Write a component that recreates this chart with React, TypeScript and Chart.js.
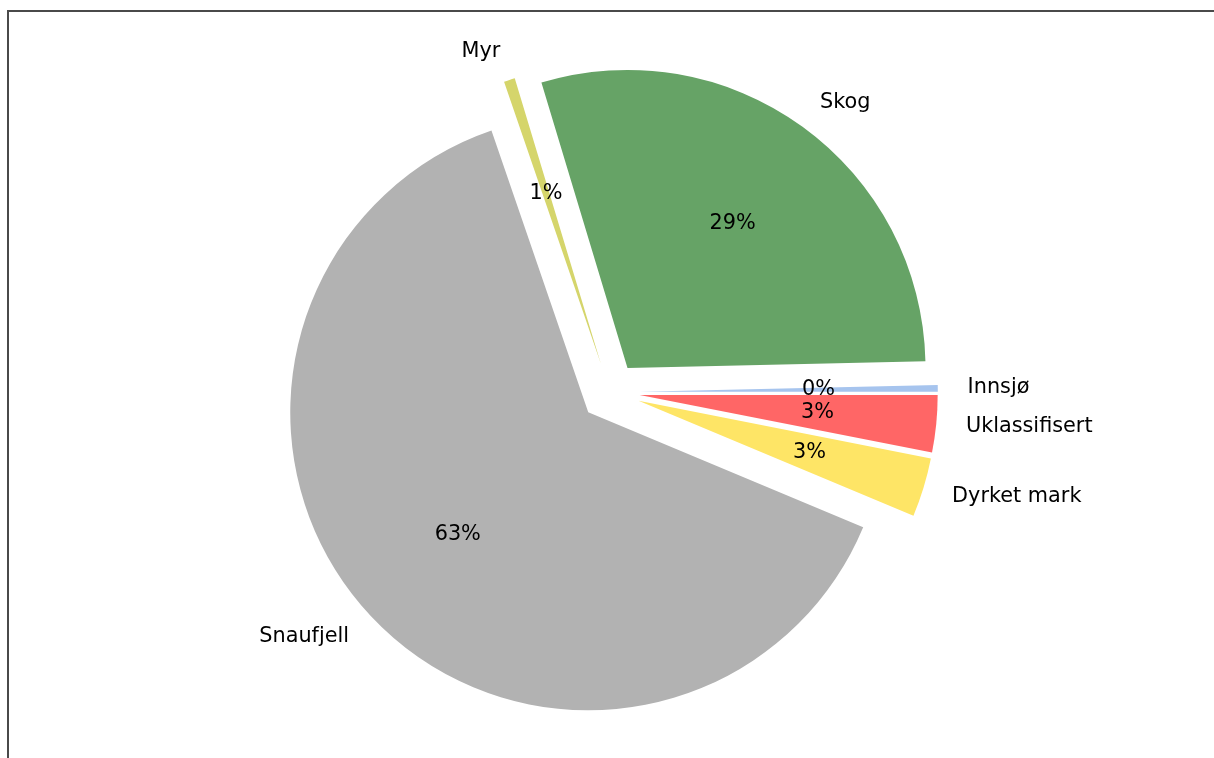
import React, { useEffect, useRef } from "react";
import { Chart, registerables } from "chart.js";

Chart.register(...registerables);

// Slices listed clockwise starting at 3 o'clock (the reference runs counter-clockwise from 0°).
const categories = ["Uklassifisert", "Dyrket mark", "Snaufjell", "Myr", "Skog", "Innsjø"];
const shares = [3.1, 3.2, 63.4, 0.6, 29.3, 0.35];
const sliceColors = ["#ff6666", "#fee566", "#b2b2b2", "#d5d56b", "#66a366", "#a6c4ee"];

const total = shares.reduce((a, b) => a + b, 0);
const pctLabels = shares.map((v) => Math.round((v / total) * 100) + "%");

const RADIUS = 298;
const EXPLODE = 0.1;
const LABEL_DIST = 1.1;
const PCT_DIST = 0.6;
const FONT = '20.8px "DejaVu Sans"';

const explodePlugin = {
  id: "explodeSlices",
  afterDatasetUpdate(chart: any, args: any) {
    const meta = chart.getDatasetMeta(args.index);
    meta.data.forEach((arc: any) => {
      const mid = (arc.startAngle + arc.endAngle) / 2;
      const d = arc.outerRadius * EXPLODE;
      arc.x += Math.cos(mid) * d;
      arc.y += Math.sin(mid) * d;
    });
  },
};

const framePlugin = {
  id: "frame",
  beforeDraw(chart: any) {
    const ctx = chart.ctx;
    ctx.save();
    ctx.fillStyle = "#ffffff";
    ctx.fillRect(0, 0, chart.width, chart.height);
    ctx.fillStyle = "#4a4a4a";
    ctx.fillRect(7, 10, chart.width - 7, 2);
    ctx.fillRect(7, 10, 2, chart.height - 10);
    ctx.restore();
  },
};

const textPlugin = {
  id: "pieText",
  afterDatasetsDraw(chart: any) {
    const ctx = chart.ctx;
    const meta = chart.getDatasetMeta(0);
    const cx = (chart.chartArea.left + chart.chartArea.right) / 2;
    ctx.save();
    ctx.font = FONT;
    ctx.fillStyle = "#000000";
    ctx.textBaseline = "middle";
    meta.data.forEach((arc: any, i: number) => {
      const mid = (arc.startAngle + arc.endAngle) / 2;
      const r = arc.outerRadius;
      const lx = arc.x + Math.cos(mid) * r * LABEL_DIST;
      const ly = arc.y + Math.sin(mid) * r * LABEL_DIST;
      ctx.textAlign = lx > cx ? "left" : "right";
      ctx.fillText(categories[i], lx, ly);
      const px = arc.x + Math.cos(mid) * r * PCT_DIST;
      const py = arc.y + Math.sin(mid) * r * PCT_DIST;
      ctx.textAlign = "center";
      ctx.fillText(pctLabels[i], px, py);
    });
    ctx.restore();
  },
};

export default function App() {
  const ref = useRef<HTMLCanvasElement | null>(null);
  useEffect(() => {
    if (!ref.current) return;
    const chart = new Chart(ref.current, {
      type: "pie",
      data: {
        labels: categories,
        datasets: [
          {
            data: shares,
            backgroundColor: sliceColors,
            borderWidth: 0,
            hoverOffset: 0,
          },
        ],
      },
      options: {
        animation: false,
        responsive: false,
        events: [],
        rotation: 90,
        radius: RADIUS,
        layout: { padding: { left: 6, right: 0, top: 26, bottom: 0 } },
        plugins: {
          legend: { display: false },
          tooltip: { enabled: false },
          title: { display: false },
        },
      } as any,
      plugins: [framePlugin, explodePlugin, textPlugin],
    });
    return () => chart.destroy();
  }, []);
  return (
    <div style={{ position: "absolute", left: 0, top: 0, width: 1214, height: 758 }}>
      <canvas ref={ref} width={1214} height={758} style={{ display: "block" }} />
    </div>
  );
}
